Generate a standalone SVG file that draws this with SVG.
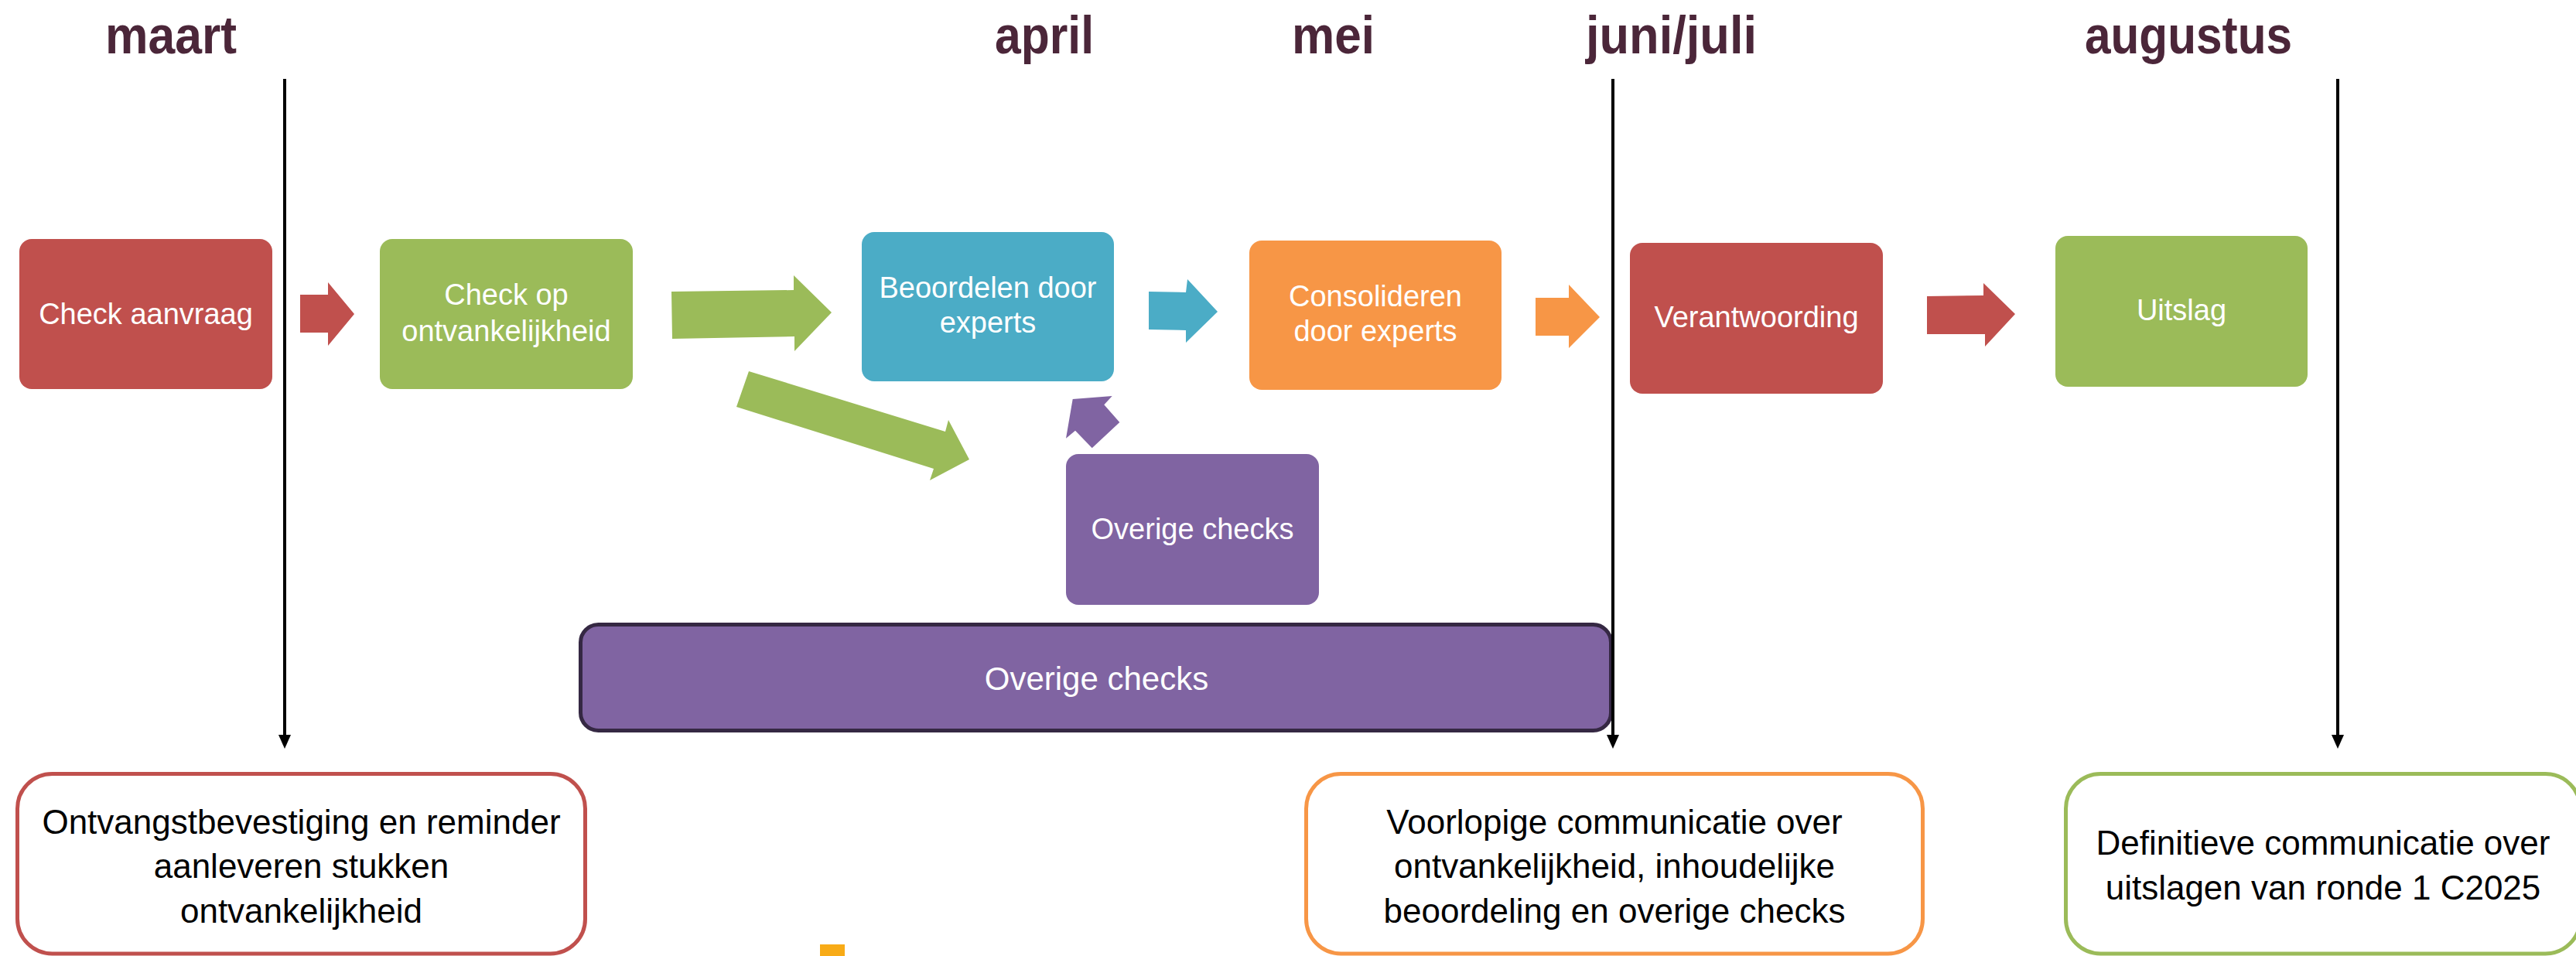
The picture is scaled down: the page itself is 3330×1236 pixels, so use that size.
<svg xmlns="http://www.w3.org/2000/svg" width="3330" height="1236" viewBox="0 0 3330 1236">
  <style>
    .month { font-family: "Liberation Sans", Arial, sans-serif; font-weight: bold; font-size: 68px; fill: #4B2639; }
    .box text { font-family: "Liberation Sans", Arial, sans-serif; font-size: 38px; fill: #FFFFFF; text-anchor: middle; }
    .note text { font-family: "Liberation Sans", Arial, sans-serif; font-size: 44px; fill: #000000; text-anchor: middle; }
    .red { fill: #C0504D; }
    .green { fill: #9BBB59; }
    .cyan { fill: #4BACC6; }
    .orange { fill: #F79646; }
    .purple { fill: #8064A2; }
    .note rect { fill: #FFFFFF; stroke-width: 5; }
    .tl { stroke: #000000; stroke-width: 4; fill: none; marker-end: url(#ah); }
  </style>
  <defs>
    <marker id="ah" markerUnits="userSpaceOnUse" markerWidth="18" markerHeight="16" refX="2" refY="8" orient="auto">
      <path d="M0,0 L18,8 L0,16 z" fill="#000000"/>
    </marker>
  </defs>

  <rect width="3330" height="1236" fill="#FFFFFF"/>

  <g id="months">
    <text class="month" x="136" y="69" textLength="170" lengthAdjust="spacingAndGlyphs">maart</text>
    <text class="month" x="1286" y="69" textLength="128" lengthAdjust="spacingAndGlyphs">april</text>
    <text class="month" x="1670" y="69" textLength="107" lengthAdjust="spacingAndGlyphs">mei</text>
    <text class="month" x="2050" y="69" textLength="221" lengthAdjust="spacingAndGlyphs">juni/juli</text>
    <text class="month" x="2695" y="69" textLength="268" lengthAdjust="spacingAndGlyphs">augustus</text>
  </g>

  <g id="node-check-aanvraag" class="box">
    <rect class="red" x="25" y="309" width="327" height="194" rx="16"/>
    <text x="188.5" y="419">Check aanvraag</text>
  </g>
  <g id="node-check-op" class="box">
    <rect class="green" x="491" y="309" width="327" height="194" rx="16"/>
    <text x="654.5" y="394">Check op</text>
    <text x="654.5" y="441">ontvankelijkheid</text>
  </g>
  <g id="node-beoordelen" class="box">
    <rect class="cyan" x="1114" y="300" width="326" height="193" rx="16"/>
    <text x="1277" y="385">Beoordelen door</text>
    <text x="1277" y="430">experts</text>
  </g>
  <g id="node-consolideren" class="box">
    <rect class="orange" x="1615" y="311" width="326" height="193" rx="16"/>
    <text x="1778" y="396">Consolideren</text>
    <text x="1778" y="441">door experts</text>
  </g>
  <g id="node-verantwoording" class="box">
    <rect class="red" x="2107" y="314" width="327" height="195" rx="16"/>
    <text x="2270.5" y="423">Verantwoording</text>
  </g>
  <g id="node-uitslag" class="box">
    <rect class="green" x="2657" y="305" width="326" height="195" rx="16"/>
    <text x="2820" y="414">Uitslag</text>
  </g>
  <g id="node-overige-small" class="box">
    <rect class="purple" x="1378" y="587" width="327" height="195" rx="16"/>
    <text x="1541.5" y="697">Overige checks</text>
  </g>
  <g id="node-overige-big" class="box">
    <rect class="purple" x="750.5" y="807.5" width="1332" height="137" rx="23" stroke="#352843" stroke-width="5"/>
    <text x="1417.5" y="892" style="font-size:42px">Overige checks</text>
  </g>

  <g id="connectors">
    <polygon class="red" points="388,381 424,381 424,365 458,406 424,447 424,430 388,430"/>
    <polygon class="green" points="868,377 1026,375 1026,356 1075,404 1027,454 1027,435 869,438"/>
    <polygon class="green" points="968,480 1222,558 1226,543 1253,594 1202,621 1207,606 952,526"/>
    <polygon class="cyan" points="1485,377 1533,378 1535,361 1574,403 1533,443 1533,427 1485,426"/>
    <polygon class="orange" points="1985,385 2028,385 2028,368 2068,410 2028,450 2028,434 1985,434"/>
    <polygon class="red" points="2491,383 2564,382 2564,366 2605,406 2566,448 2566,432 2491,432"/>
    <polygon class="purple" points="1386.7,516 1437.7,512 1427.3,523.3 1447.3,546 1411.7,579.3 1390,556.7 1378,566.7"/>
    <line class="tl" x1="368" y1="102" x2="368" y2="952"/>
    <line class="tl" x1="2085" y1="102" x2="2085" y2="952"/>
    <line class="tl" x1="3022" y1="102" x2="3022" y2="952"/>
  </g>

  <g id="note-maart" class="note">
    <rect x="22.5" y="1000.5" width="734" height="232.5" rx="45" stroke="#C0504D"/>
    <text x="389.5" y="1078">Ontvangstbevestiging en reminder</text>
    <text x="389.5" y="1135">aanleveren stukken</text>
    <text x="389.5" y="1193">ontvankelijkheid</text>
  </g>
  <g id="note-juni" class="note">
    <rect x="1688.5" y="1000.5" width="797" height="232.5" rx="45" stroke="#F79646"/>
    <text x="2087" y="1078">Voorlopige communicatie over</text>
    <text x="2087" y="1135">ontvankelijkheid, inhoudelijke</text>
    <text x="2087" y="1193">beoordeling en overige checks</text>
  </g>
  <g id="note-augustus" class="note">
    <rect x="2670.5" y="1000.5" width="665" height="232.5" rx="45" stroke="#9BBB59"/>
    <text x="3003" y="1105">Definitieve communicatie over</text>
    <text x="3003" y="1163">uitslagen van ronde 1 C2025</text>
  </g>

  <rect x="1060" y="1221" width="32" height="15" fill="#F8AB17"/>
</svg>
